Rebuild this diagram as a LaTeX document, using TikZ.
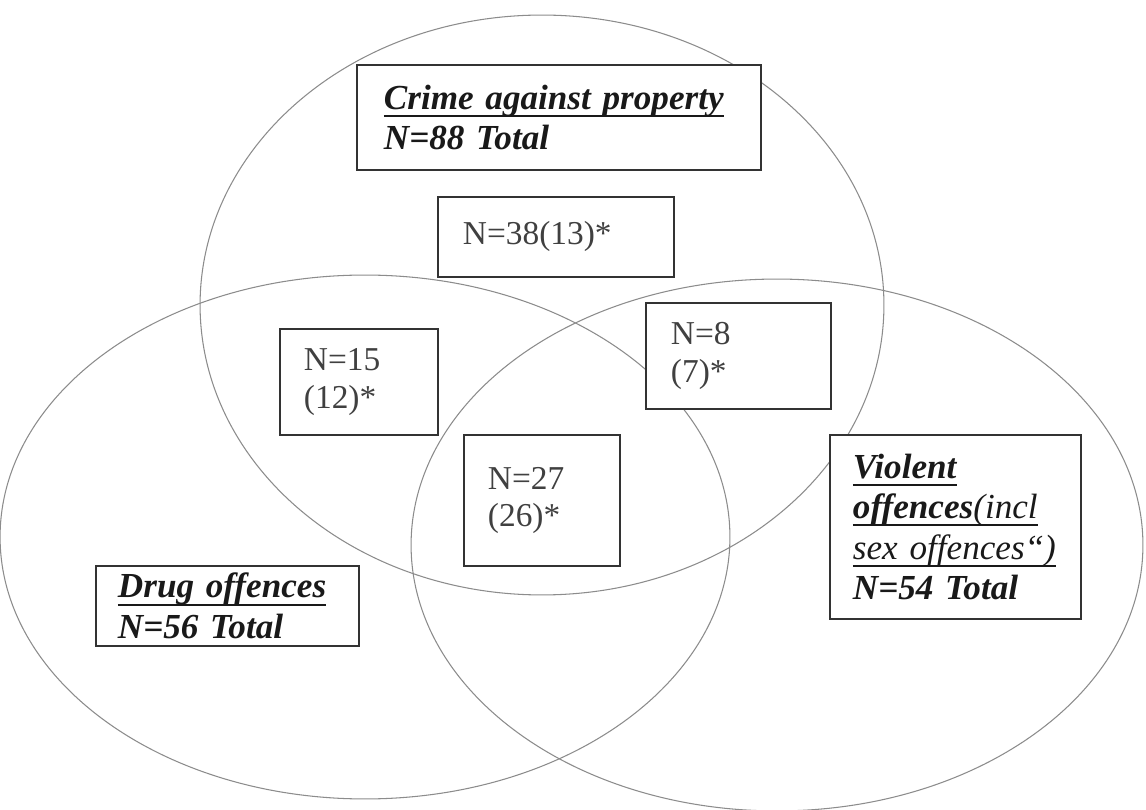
\documentclass[tikz,border=0pt]{standalone}
\usepackage{fontspec}
\setmainfont{Liberation Serif}
\usepackage{tikz}
\usetikzlibrary{positioning}
\newcommand{\titleline}[2][1.1pt]{\setbox0\hbox{#2}\leavevmode\rlap{\rule[-4.3pt]{\wd0}{#1}}\box0}

\begin{document}
\begin{tikzpicture}[
    x=0.02cm, y=-0.02cm,
    set/.style={draw=black!45, line width=0.6pt},
    box/.style={draw=black!80, line width=1.1pt, fill=white, align=left, anchor=north west,
                inner ysep=0pt, text=black!75, font=\fontsize{19}{21.5}\selectfont},
    title/.style={box, text=black!90, font=\fontsize{20}{23}\selectfont}
  ]
  \useasboundingbox[fill=white] (0,0) rectangle (1146,810);

  % Sets
  \draw[set] (542,305) ellipse [x radius=6.84cm, y radius=5.8cm];
  \draw[set] (365,537) ellipse [x radius=7.3cm, y radius=5.24cm];
  \draw[set] (777,545) ellipse [x radius=7.32cm, y radius=5.32cm];

  % Totals
  \node[title, inner xsep=0.54cm, text width=7cm, minimum height=2.1cm] (property) at (356,64)
    {\titleline{\textbf{\textit{Crime against property}}}\\ \textbf{\textit{N=88 Total}}};
  \node[title, inner xsep=0.46cm, text width=4.1cm, minimum height=3.68cm] (violent) at (829,434)
    {\titleline{\textbf{\textit{Violent}}}\\
     \titleline{\textbf{\textit{offences}}\textit{(incl}}\\
     \titleline[0.7pt]{\textit{sex offences“)}}\\
     \textbf{\textit{N=54 Total}}};
  \node[title, inner xsep=0.44cm, text width=4.38cm, minimum height=1.6cm] (drug) at (95,565)
    {\titleline{\textbf{\textit{Drug offences}}}\\ \textbf{\textit{N=56 Total}}};

  % Counts
  \node[box, inner xsep=0.5cm, text width=3.72cm, minimum height=1.6cm] (onlyprop) at (437,196) {N=38(13)*};
  \node[box, inner xsep=0.48cm, text width=2.2cm, minimum height=2.12cm] (propdrug) at (279,328) {N=15\\(12)*};
  \node[box, inner xsep=0.5cm, text width=2.7cm, minimum height=2.12cm] (propviol) at (645,302) {N=8\\(7)*};
  \node[box, inner xsep=0.48cm, text width=2.16cm, minimum height=2.62cm] (all) at (463,434) {N=27\\(26)*};
\end{tikzpicture}
\end{document}
